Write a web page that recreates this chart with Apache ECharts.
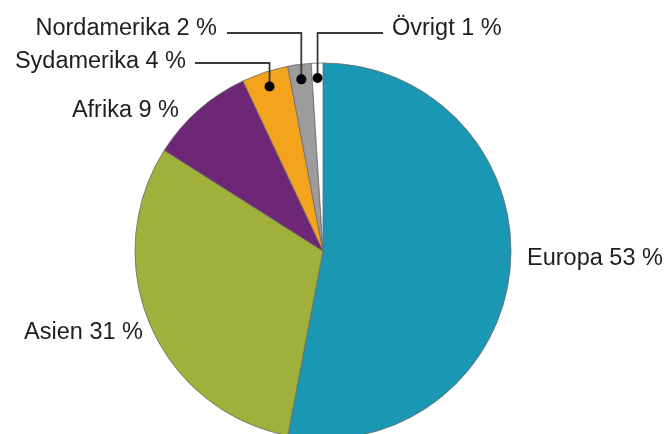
<!DOCTYPE html>
<html>
<head>
<meta charset="utf-8">
<script src="https://cdn.jsdelivr.net/npm/echarts@6/dist/echarts.min.js"></script>
<style>
  html, body { margin: 0; padding: 0; background: #fff; }
  #chart { width: 667px; height: 434px; }
</style>
</head>
<body>
<div id="chart"></div>
<script>
// ---- data ----
const categories = ['Europa', 'Asien', 'Afrika', 'Sydamerika', 'Nordamerika', 'Övrigt'];
const values = [53, 31, 9, 4, 2, 1];
const colors = ['#1a97b3', '#9fb13a', '#6e2676', '#f4a41c', '#9c9c9c', '#ffffff'];
const calloutSlices = ['Sydamerika', 'Nordamerika', 'Övrigt'];

// ---- layout ----
const CX = 323, CY = 251, R = 188, DOT_R = 173;
const total = values.reduce((a, b) => a + b, 0);
const labelLayoutSpec = {
  'Europa':      { x: 527, y: 259, align: 'left' },
  'Asien':       { x: 143, y: 333, align: 'right' },
  'Afrika':      { x: 179, y: 111, align: 'right' },
  'Sydamerika':  { x: 186, y: 62,  align: 'right', lineStart: 195, lineY: 63 },
  'Nordamerika': { x: 217, y: 29,  align: 'right', lineStart: 227, lineY: 33 },
  'Övrigt':      { x: 392, y: 29,  align: 'left',  lineStart: 383, lineY: 33 }
};

function midPercent(i) {
  let cum = 0;
  for (let k = 0; k < i; k++) cum += values[k];
  return (cum + values[i] / 2) / total * 100;
}

const pieData = categories.map((c, i) => ({
  name: c,
  value: values[i],
  itemStyle: { color: colors[i] }
}));

// callout leaders: [radius, angle(percent), elbowY, lineEndX]
const calloutData = categories
  .map((c, i) => calloutSlices.includes(c)
    ? [DOT_R, midPercent(i), labelLayoutSpec[c].lineY, labelLayoutSpec[c].lineStart]
    : null)
  .filter(d => d);

const chart = echarts.init(document.getElementById('chart'), null, { renderer: 'canvas' });
chart.setOption({
  animation: false,
  backgroundColor: '#ffffff',
  polar: { center: [CX, CY], radius: R },
  angleAxis: { type: 'value', min: 0, max: 100, startAngle: 90, clockwise: true, show: false },
  radiusAxis: { type: 'value', min: 0, max: R, show: false },
  series: [
    {
      type: 'pie',
      center: [CX, CY],
      radius: R,
      startAngle: 90,
      clockwise: true,
      avoidLabelOverlap: false,
      silent: true,
      itemStyle: { borderColor: '#6a6a6a', borderWidth: 0.8 },
      label: {
        show: true,
        position: 'outside',
        formatter: '{b} {c} %',
        fontFamily: 'Liberation Sans, Arial, sans-serif',
        fontSize: 23.5,
        color: '#1e1e1e'
      },
      labelLine: { show: false },
      labelLayout: function (p) {
        const s = labelLayoutSpec[categories[p.dataIndex]];
        return { x: s.x, y: s.y, align: s.align, verticalAlign: 'middle' };
      },
      data: pieData,
      z: 1
    },
    {
      type: 'custom',
      coordinateSystem: 'polar',
      silent: true,
      z: 5,
      data: calloutData,
      renderItem: function (params, api) {
        const dot = api.coord([api.value(0), api.value(1)]);
        const ey = api.value(2), ex = api.value(3);
        return {
          type: 'group',
          children: [
            {
              type: 'polyline',
              shape: { points: [dot, [dot[0], ey], [ex, ey]] },
              style: { stroke: '#3a3a3a', lineWidth: 1.8, fill: null }
            },
            {
              type: 'circle',
              shape: { cx: dot[0], cy: dot[1], r: 5 },
              style: { fill: '#000' }
            }
          ]
        };
      }
    }
  ]
});
</script>
</body>
</html>
